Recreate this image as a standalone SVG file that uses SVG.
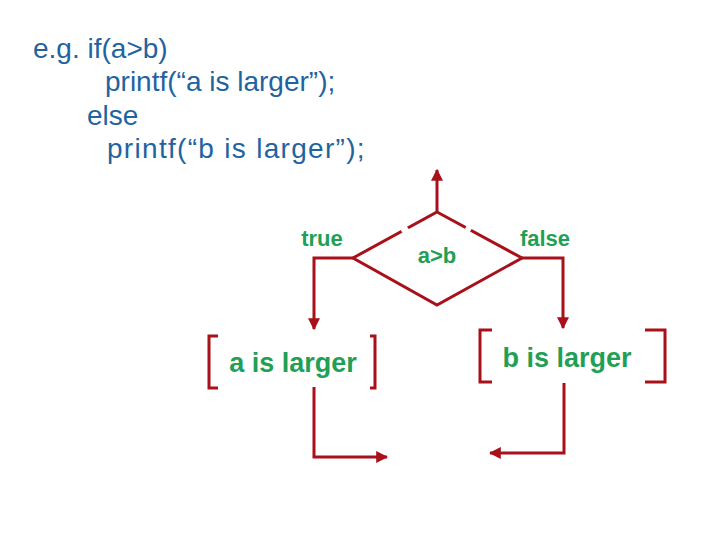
<svg xmlns="http://www.w3.org/2000/svg" width="720" height="540" viewBox="0 0 720 540">
<defs>
<style>
.code{font-family:"Liberation Sans",Arial,sans-serif;font-size:28px;fill:#1f64a0}
.lbl{font-family:"Liberation Sans",Arial,sans-serif;font-weight:bold;fill:#1fa055}
.ln{fill:none;stroke:#a8101a;stroke-width:3}
</style>
<marker id="ah" viewBox="0 0 10 10" refX="9" refY="5" markerWidth="4" markerHeight="4" orient="auto" markerUnits="strokeWidth">
<path d="M0,0 L10,5 L0,10 Z" fill="#a8101a"/>
</marker>
</defs>
<rect width="720" height="540" fill="#ffffff"/>
<g id="code">
<text class="code" x="33" y="58">e.g. if(a&gt;b)</text>
<text class="code" x="105" y="91">printf(“a is larger”);</text>
<text class="code" x="87" y="125">else</text>
<text class="code" x="107" y="158" letter-spacing="1.3">printf(“b is larger”);</text>
</g>
<g id="decision">
<path class="ln" d="M437,212 L522,258 L437,305 L353,258 Z"/>
<line x1="402" y1="232" x2="408" y2="228" stroke="#ffffff" stroke-width="5"/>
<line x1="466" y1="227" x2="471" y2="230" stroke="#ffffff" stroke-width="5"/>
<text class="lbl" x="437" y="263" font-size="22" text-anchor="middle">a&gt;b</text>
</g>
<g id="true-label"><text class="lbl" x="322" y="246" font-size="22" text-anchor="middle">true</text></g>
<g id="false-label"><text class="lbl" x="545" y="246" font-size="22" text-anchor="middle">false</text></g>
<g id="box-a">
<path class="ln" d="M218,336 H209 V388 H218 M370,336 H375 V388 H370"/>
<text class="lbl" x="293" y="372" font-size="27" text-anchor="middle">a is larger</text>
</g>
<g id="box-b">
<path class="ln" d="M492,330 H480 V382 H492 M645,330 H665 V382 H645"/>
<text class="lbl" x="567" y="367" font-size="27" text-anchor="middle">b is larger</text>
</g>
<g id="connectors">
<path class="ln" d="M437,212 V170" marker-end="url(#ah)"/>
<path class="ln" d="M353,258 H314 V329" marker-end="url(#ah)"/>
<path class="ln" d="M522,258 H563 V328" marker-end="url(#ah)"/>
<path class="ln" d="M314,387 V457 H387" marker-end="url(#ah)"/>
<path class="ln" d="M564,383 V453 H490" marker-end="url(#ah)"/>
</g>
</svg>
